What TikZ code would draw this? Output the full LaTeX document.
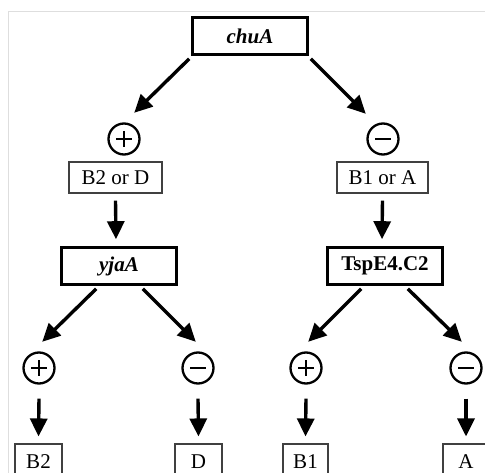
\documentclass[tikz,border=0pt]{standalone}
\usepackage{fontspec}
\setmainfont{Liberation Serif}
\usetikzlibrary{arrows.meta,calc}
\begin{document}
\begin{tikzpicture}[x=1pt,y=-1pt,
  every node/.style={font=\fontsize{21}{25}\selectfont},
  genebox/.style={draw, line width=2.6pt, minimum width=115pt, minimum height=37pt, inner sep=0pt},
  groupbox/.style={draw=black!75, line width=1.1pt, minimum height=31pt, inner sep=0pt},
  leafbox/.style={draw=black!75, line width=1.1pt, minimum width=46pt, minimum height=36pt, inner sep=0pt},
  sign/.style={circle, draw, line width=2.3pt, minimum size=31pt, inner sep=0pt},
  signbar/.style={line width=2.1pt},
  arr/.style={line width=3.4pt, -{Triangle[length=18pt,width=17pt]}},
  frameline/.style={draw=black!13, line width=1pt}
]
\useasboundingbox (0,0) rectangle (485,473);
\clip (0,0) rectangle (485,473);
\fill[white] (0,0) rectangle (485,473);
\draw[frameline] (8,473) -- (8,12) -- (485,12);

% level 1
\node[genebox] (chuA) at (250,36) {\textbf{\textit{chuA}}};
\node[sign] (p1) at (124,139) {};
\node[sign] (m1) at (383,139) {};
\draw[signbar] ($(p1)+(-8,0)$) -- ($(p1)+(8,0)$) ($(p1)+(0,-8)$) -- ($(p1)+(0,8)$);
\draw[signbar] ($(m1)+(-8,0)$) -- ($(m1)+(8,0)$);
\draw[arr] ($(chuA.south west)+(-2,3)$) -- ++(-55,54);
\draw[arr] ($(chuA.south east)+(2,3)$) -- ++(55,55);

% level 2
\node[groupbox, minimum width=93pt] (B2orD) at (115.5,177.5) {B2 or D};
\node[groupbox, minimum width=91pt] (B1orA) at (382.5,177.5) {B1 or A};
\node[genebox] (yjaA) at (119,266) {\textbf{\textit{yjaA}}};
\node[genebox] (Tsp) at (385,266) {\textbf{TspE4.C2}};
\draw[arr] ($(B2orD.south)+(0,7)$) -- ($(yjaA.north)+(-3,-7)$);
\draw[arr] ($(B1orA.south)+(0,7)$) -- ($(Tsp.north)+(-3,-7)$);

% level 3 signs
\node[sign] (p2) at (39,368) {};
\node[sign] (m2) at (198,368) {};
\node[sign] (p3) at (306,368) {};
\node[sign] (m3) at (466,368) {};
\foreach \s in {p2,p3}{
  \draw[signbar] ($(\s)+(-8,0)$) -- ($(\s)+(8,0)$) ($(\s)+(0,-8)$) -- ($(\s)+(0,8)$);
}
\foreach \s in {m2,m3}{
  \draw[signbar] ($(\s)+(-8,0)$) -- ($(\s)+(8,0)$);
}
\draw[arr] ($(yjaA.south west)+(36,3)$) -- ++(-54,53);
\draw[arr] ($(yjaA.south east)+(-35,3)$) -- ++(53,53);
\draw[arr] ($(Tsp.south west)+(35,3)$) -- ++(-53,53);
\draw[arr] ($(Tsp.south east)+(-36,3)$) -- ++(54,53);

% leaves
\node[leafbox, minimum width=47pt] (B2) at (38.5,462) {B2};
\node[leafbox, minimum width=47pt] (D) at (198.5,462) {D};
\node[leafbox, minimum width=45pt] (B1) at (305.5,462) {B1};
\node[leafbox, minimum width=46pt] (A) at (466,462) {A};
\foreach \s/\t in {p2/B2,m2/D,p3/B1,m3/A}{
  \draw[arr] ($(\s.south)+(0,14)$) -- ($(\t.north)+(0,-7)$);
}
\end{tikzpicture}
\end{document}
